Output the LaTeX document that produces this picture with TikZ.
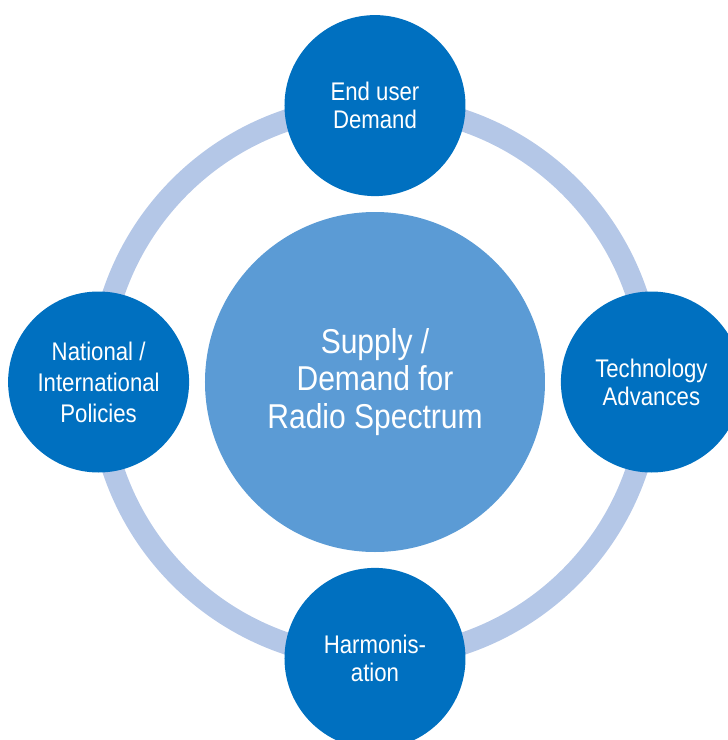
\documentclass[tikz,border=0pt]{standalone}
\usepackage{fontspec}
\setmainfont{Liberation Sans}[FakeStretch=0.87]
\usepackage{tikz}
\usetikzlibrary{positioning}
\definecolor{spokeblue}{HTML}{0070C0}
\definecolor{hubblue}{HTML}{5B9BD5}
\definecolor{ringblue}{HTML}{B4C7E7}
\tikzset{
  every node/.append style={text=white, align=center},
  hub/.style={circle, fill=hubblue, minimum size=340pt, inner sep=0pt,
    font=\fontsize{34.5}{37.5}\selectfont},
  spoke/.style={circle, fill=spokeblue, minimum size=181pt, inner sep=0pt,
    font=\fontsize{25.5}{28}\selectfont},
  ring/.style={draw=ringblue, line width=22pt}
}

\begin{document}
\begin{tikzpicture}[x=1pt, y=1pt, node distance=15.5pt]

% ---- Frame (same size as the reference) ----
\clip (-375,-358) rectangle (353,382);

% ---- Centre ----
\node[hub] (hub) at (0,0) {Supply /\\Demand for\\Radio Spectrum};

% ---- Ring behind the outer circles ----
\draw[ring] (hub.center) circle[radius=276];

% ---- Outer circles ----
\node[spoke, above=of hub] (user)  {End user\\Demand};
\node[spoke, right=of hub] (tech)  {Technology\\Advances};
\node[spoke, below=of hub] (harm)  {Harmonis-\\ation};
\node[spoke, left=of hub, font=\fontsize{25.5}{31}\selectfont] (policy) {National /\\International\\Policies};

\end{tikzpicture}
\end{document}
